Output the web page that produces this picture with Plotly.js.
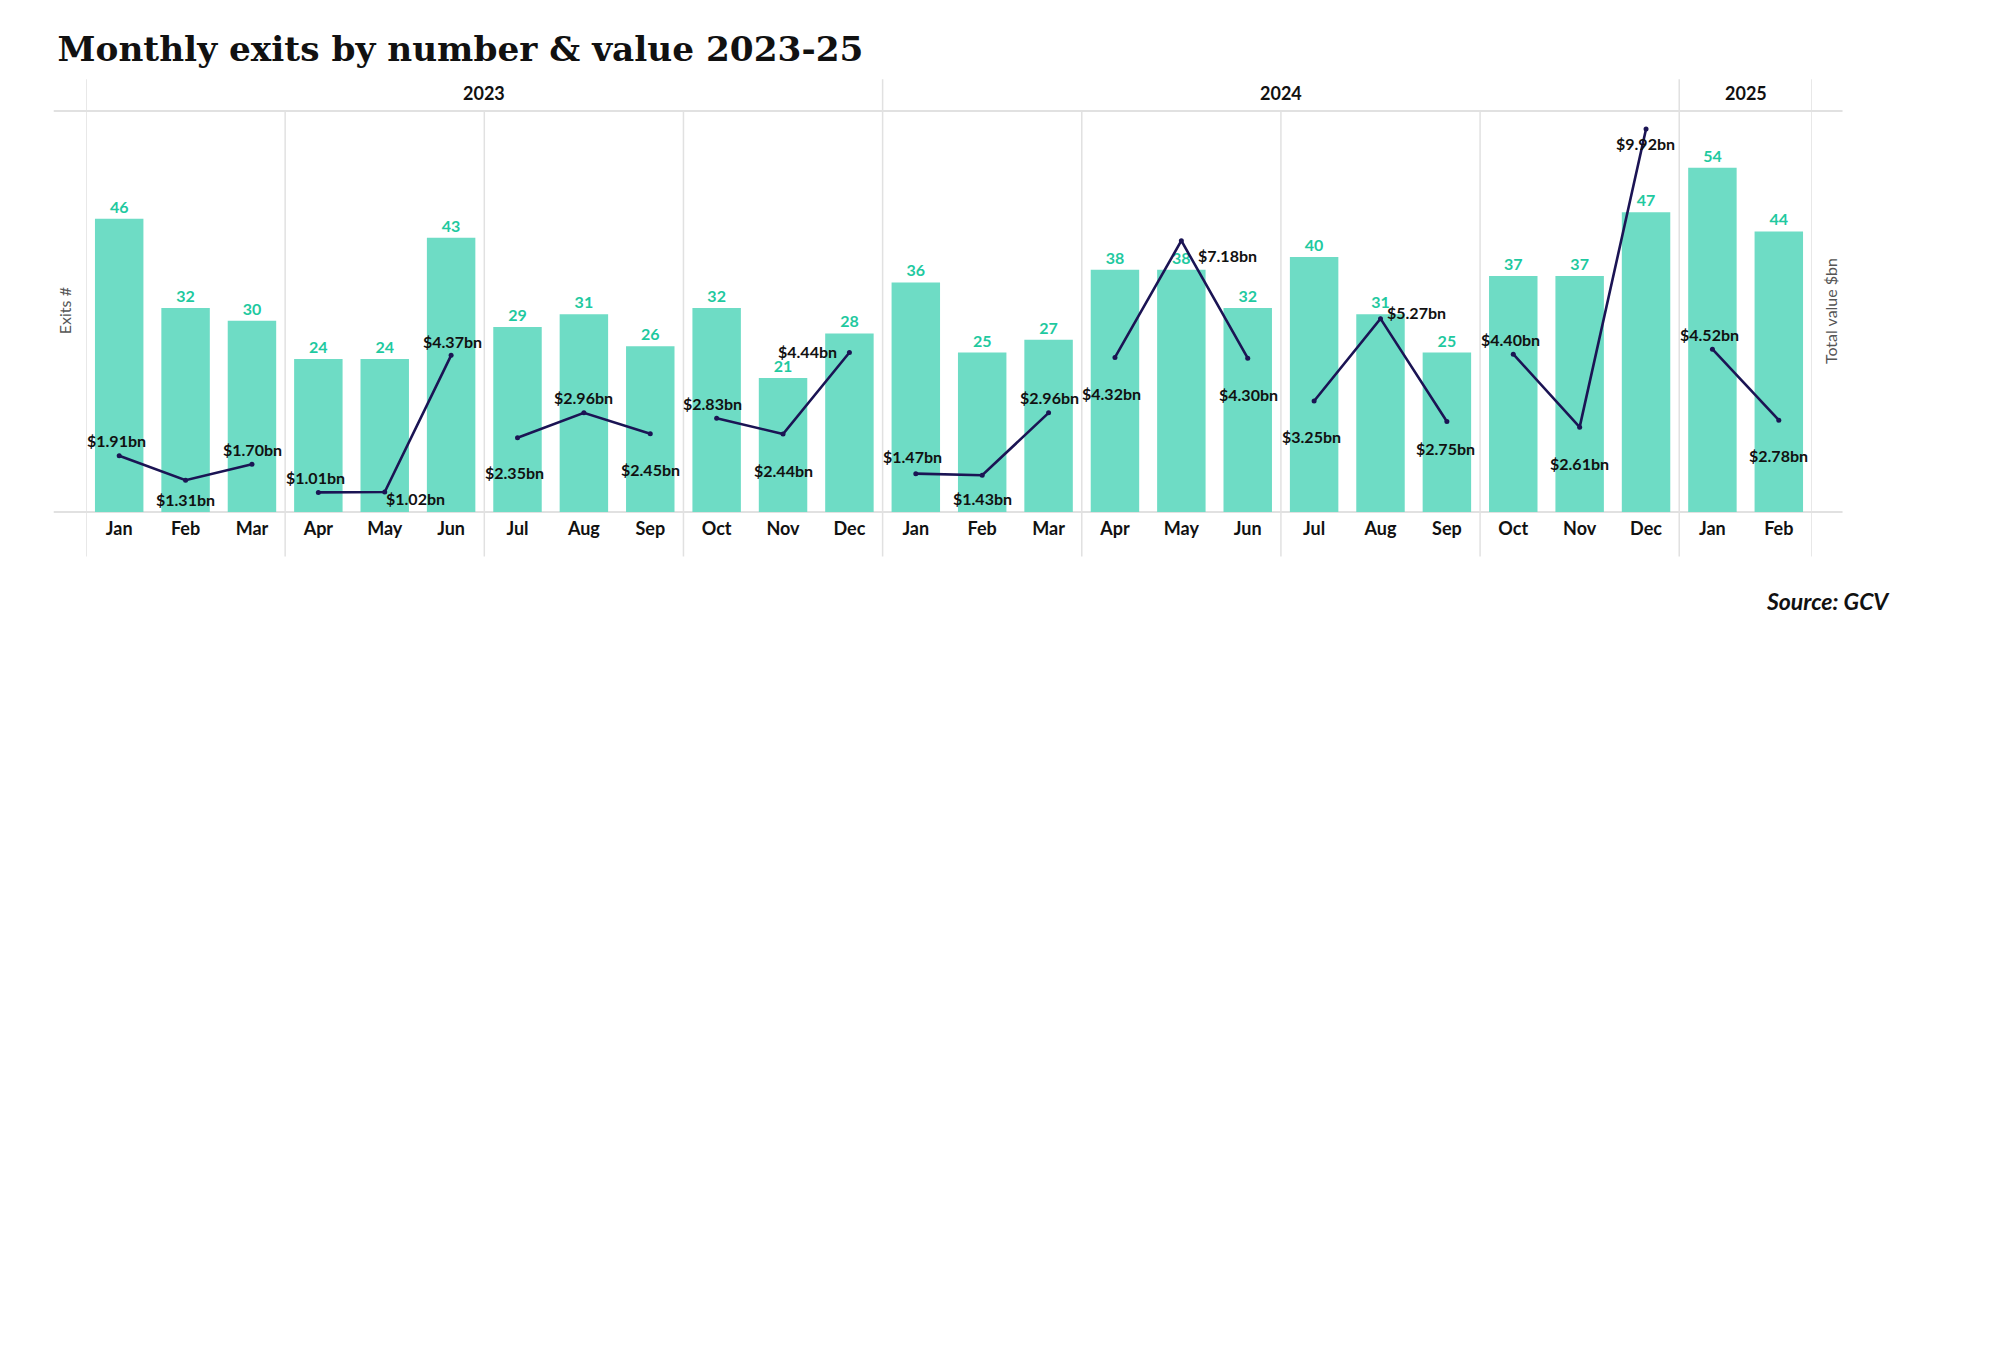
<!DOCTYPE html>
<html>
<head>
<meta charset="utf-8">
<script src="https://cdn.plot.ly/plotly-3.0.1.min.js"></script>
<style>
html,body{margin:0;padding:0;background:#fff;}
#chart{width:2006px;height:1348px;}
</style>
</head>
<body>
<div id="chart"></div>
<script>
// ---- data ----
const months = ['Jan','Feb','Mar','Apr','May','Jun','Jul','Aug','Sep','Oct','Nov','Dec',
                'Jan','Feb','Mar','Apr','May','Jun','Jul','Aug','Sep','Oct','Nov','Dec',
                'Jan','Feb'];
const years = ['2023','2024','2025'];
const monthsPerYear = [12, 12, 2];
const exits = [46,32,30,24,24,43,29,31,26,32,21,28,
               36,25,27,38,38,32,40,31,25,37,37,47,
               54,44];
const valueBn = [1.91,1.31,1.70,1.01,1.02,4.37,2.35,2.96,2.45,2.83,2.44,4.44,
                 1.47,1.43,2.96,4.32,7.18,4.30,3.25,5.27,2.75,4.40,2.61,9.92,
                 4.52,2.78];

// ---- styles ----
const labelOffsets = [[-3,15],[0,-19],[1,15],[-3,15],[31,-6],[1,14],[-3,-35],[0,15],[0,-36],[-4,15],[0,-36],[-42,1],
                      [-3,17],[0,-23],[1,15],[-3,-36],[46,-15],[1,-36],[-3,-35],[36,6],[-1,-27],[-3,15],[0,-36],[-1,-15],
                      [-3,15],[0,-35]];
const FONT = 'Lato, "Noto Sans", sans-serif';
const barColor = '#6edcc5';
const barLabelColor = '#1fc9a0';
const lineColor = '#1b1454';
const gridColor = '#e1e1e1';

const idx = months.map((m,i)=>i);

const traces = [];
traces.push({
  type:'bar', x: idx, y: exits,
  marker:{color: barColor},
  text: exits.map(String), textposition:'outside',
  textfont:{family: FONT, size:16, color: barLabelColor, weight:700},
  cliponaxis:false, hoverinfo:'skip', showlegend:false
});

// line broken per quarter
for (let s = 0; s < months.length; s += 3) {
  const xs = idx.slice(s, s+3);
  traces.push({
    type:'scatter', mode:'lines+markers', x: xs, y: valueBn.slice(s, s+3), yaxis:'y2',
    line:{color: lineColor, width:2.6}, marker:{color: lineColor, size:5},
    cliponaxis:false, hoverinfo:'skip', showlegend:false
  });
}

const annotations = valueBn.map((v,i)=>({
  x: i, y: v, xref:'x', yref:'y2', showarrow:false,
  text: '$' + v.toFixed(2) + 'bn',
  xshift: labelOffsets[i][0], yshift: labelOffsets[i][1],
  font:{family: FONT, size:16, color:'#111', weight:700}
}));

// year headers
let start = 0;
const yearBounds = [-0.5];
years.forEach((yr, k) => {
  const n = monthsPerYear[k];
  annotations.push({
    x: start + (n-1)/2, y: 1.044, xref:'x', yref:'paper', showarrow:false,
    text: '<b>' + yr + '</b>', yanchor:'middle', xanchor:'center',
    font:{family: FONT, size:18, color:'#111'}
  });
  start += n;
  yearBounds.push(start - 0.5);
});

annotations.push({
  x:-0.0127, y:0.501, xref:'paper', yref:'paper', showarrow:false, textangle:-90,
  xanchor:'center', yanchor:'middle',
  text:'Exits #', font:{family: FONT, size:16, color:'#555'}
});
annotations.push({
  x:1.0104, y:0.501, xref:'paper', yref:'paper', showarrow:false, textangle:-90,
  xanchor:'center', yanchor:'middle',
  text:'Total value $bn', font:{family: FONT, size:16, color:'#555'}
});
annotations.push({
  x:1.0465, y:-0.222, xref:'paper', yref:'paper', showarrow:false, xanchor:'right', yanchor:'middle',
  text:'<b><i>Source: GCV</i></b>', font:{family: FONT, size:23, color:'#111'}
});

const shapes = [];
// horizontal lines
[0, 1].forEach(yv => shapes.push({
  type:'line', xref:'paper', yref:'paper', x0:-0.0187, x1:1.0177, y0:yv, y1:yv,
  line:{color: gridColor, width:2}, layer:'below'
}));
// vertical separators every quarter, taller at year boundaries
for (let b = -0.5; b <= months.length - 0.5 + 0.01; b += 3) {
  const isYear = yearBounds.some(yb => Math.abs(yb - b) < 0.01);
  if (!isYear) shapes.push({
    type:'line', xref:'x', yref:'paper', x0:b, x1:b, y0:-0.111, y1:1,
    line:{color: gridColor, width:1.5}, layer:'below'
  });
}
yearBounds.forEach(b => shapes.push({
  type:'line', xref:'x', yref:'paper', x0:b, x1:b, y0:-0.111, y1:1.079,
  line:{color: gridColor, width:1.5}, layer:'below'
}));

const layout = {
  width:2006, height:1348,
  margin:{l:86, r:194, t:111, b:836},
  paper_bgcolor:'#fff', plot_bgcolor:'#fff',
  title:{
    text:'<b>Monthly exits by number &amp; value 2023-25</b>',
    xref:'container', yref:'container', x:0.0287, xanchor:'left', y:1 - 48.6/1348, yanchor:'middle',
    font:{family:'"DejaVu Serif", "Liberation Serif", serif', size:34.3, color:'#111'}
  },
  bargap:0.27,
  xaxis:{
    range:[-0.5, months.length - 0.5], tickmode:'array', tickvals: idx, ticktext: months,
    showgrid:false, zeroline:false, showline:false, ticks:'',
    tickfont:{family: FONT, size:18, color:'#111', weight:700}, ticklabelstandoff:4,
    fixedrange:true
  },
  yaxis:{range:[0, 62.9], visible:false, fixedrange:true},
  yaxis2:{range:[0.53, 10.36], overlaying:'y', side:'right', visible:false, fixedrange:true},
  annotations, shapes,
  font:{family: FONT}
};

Plotly.newPlot('chart', traces, layout, {displayModeBar:false, staticPlot:true});
</script>
</body>
</html>
